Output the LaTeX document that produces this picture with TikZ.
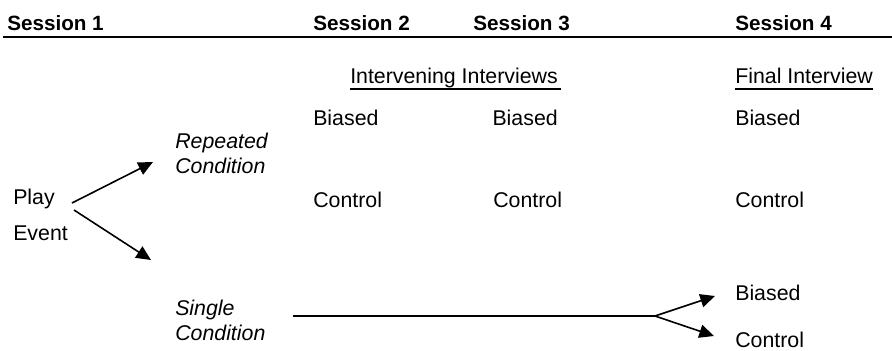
\documentclass[tikz,border=0pt]{standalone}
\usepackage{fontspec}
\setmainfont{Liberation Sans}
\usetikzlibrary{arrows.meta}
\begin{document}
\begin{tikzpicture}[x=0.75pt,y=-0.75pt,
  txt/.style={inner sep=0pt,anchor=base west,font=\fontsize{16}{19}\selectfont},
  txtr/.style={txt,anchor=base east},
  itx/.style={txt,font=\fontsize{16}{19}\selectfont\itshape},
  hdr/.style={txt,font=\fontsize{15.5}{18}\selectfont\bfseries},
  arr/.style={line width=1.2pt,-{Triangle[length=11pt,width=10pt]}},
  thin/.style={line width=0.8pt}]
\useasboundingbox (0,0) rectangle (892,350);
% header
\node[hdr] (s1) at (7,30) {Session 1};
\node[hdr] (s2) at (313,30) {Session 2};
\node[hdr] (s3) at (473,30) {Session 3};
\node[hdr] (s4) at (735,30) {Session 4};
\coordinate (rl) at (3,37);
\coordinate (rr) at (892,37);
\draw[line width=1.9pt] (rl) -- (rr);
% sub headers
\node[txt] (ii) at (350,83) {Intervening Interviews};
\node[txt] (fi) at (735,83) {Final Interview};
\coordinate (iil) at (350,89); \coordinate (iir) at (561,89);
\coordinate (fil) at (735,89); \coordinate (fir) at (873,89);
\draw[line width=1.1pt] (iil) -- (iir);
\draw[line width=1.1pt] (fil) -- (fir);
% biased / control rows
\node[txt]  (b2) at (313,125) {Biased};
\node[txtr] (b3) at (558,125) {Biased};
\node[txt]  (b4) at (735,125) {Biased};
\node[txt]  (c2) at (313,207) {Control};
\node[txt]  (c3) at (493,207) {Control};
\node[txt]  (c4) at (735,207) {Control};
% left part
\node[txt] (play) at (13,204) {Play};
\node[txt] (event) at (13,240) {Event};
\node[itx] (rep1) at (175,148) {Repeated};
\node[itx] (rep2) at (175,173) {Condition};
\node[itx] (sin1) at (175,315) {Single};
\node[itx] (sin2) at (175,340) {Condition};
\coordinate (a1s) at (72,203); \coordinate (a1e) at (153,162);
\coordinate (a2s) at (74,210); \coordinate (a2e) at (151,260);
\draw[arr] (a1s) -- (a1e);
\draw[arr] (a2s) -- (a2e);
% single condition line and fork
\node[txt] (bb) at (735,300) {Biased};
\node[txt] (cb) at (735,347) {Control};
\coordinate (ls) at (293,316);
\coordinate (fork) at (655,316);
\coordinate (t1) at (715,296);
\coordinate (t2) at (714,336);
\draw[thin] (ls) -- (fork);
\draw[arr] (fork) -- (t1);
\draw[arr] (fork) -- (t2);
\end{tikzpicture}
\end{document}
